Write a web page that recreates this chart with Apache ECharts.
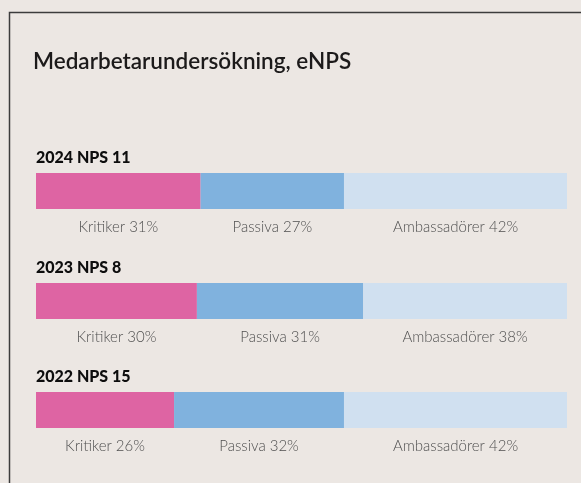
<!DOCTYPE html>
<html>
<head>
<meta charset="utf-8">
<script src="https://cdn.jsdelivr.net/npm/echarts@6/dist/echarts.min.js"></script>
<style>
html,body{margin:0;padding:0;background:#ECE7E3;}
#chart{width:581px;height:483px;}
</style>
</head>
<body>
<div id="chart"></div>
<script>
const chartTitle = 'Medarbetarundersökning, eNPS';
const years = ['2024', '2023', '2022'];
const npsScores = [11, 8, 15];
const categoryNames = ['Kritiker', 'Passiva', 'Ambassadörer'];
const kritiker = [31, 30, 26];
const passiva = [27, 31, 32];
const ambassadorer = [42, 38, 42];
const colors = ['#DE64A3', '#80B2DE', '#D0E0F0'];

const seriesValues = [kritiker, passiva, ambassadorer];
const gridTops = [173, 283, 392];

const chart = echarts.init(document.getElementById('chart'));

const grids = [], xAxes = [], yAxes = [], series = [];
const titles = [{
  text: chartTitle, left: 28, top: 45,
  textStyle: {fontFamily: 'Lato', fontSize: 22.5, fontWeight: 600, color: '#1c1a1a'}
}];

years.forEach((y, i) => {
  grids.push({left: 36, right: 14, top: gridTops[i], height: 36, containLabel: false});
  xAxes.push({gridIndex: i, type: 'value', min: 0, max: 'dataMax', show: false});
  yAxes.push({gridIndex: i, type: 'category', data: [y], show: false});
  titles.push({
    text: y + ' NPS ' + npsScores[i], left: 31, top: gridTops[i] - 28,
    textStyle: {fontFamily: 'Lato', fontSize: 16, fontWeight: 900, color: '#0d0d0d'}
  });
  categoryNames.forEach((name, k) => {
    series.push({
      type: 'bar', name: name, xAxisIndex: i, yAxisIndex: i, stack: 's' + i,
      barWidth: 36,
      data: [seriesValues[k][i]],
      itemStyle: {color: colors[k]},
      label: {
        show: true, position: 'bottom', distance: 11,
        formatter: name + ' ' + seriesValues[k][i] + '%',
        fontFamily: 'Lato', fontWeight: 300, fontSize: 15, color: '#505050'
      },
      silent: true
    });
  });
});

chart.setOption({
  backgroundColor: '#ECE7E3',
  animation: false,
  title: titles,
  grid: grids,
  xAxis: xAxes,
  yAxis: yAxes,
  series: series,
  graphic: [{
    type: 'polyline',
    shape: {points: [[9.5, 483], [9.5, 12.5], [581, 12.5]]},
    style: {stroke: '#3c3c3c', lineWidth: 1.5, fill: null}
  }]
});
</script>
</body>
</html>
